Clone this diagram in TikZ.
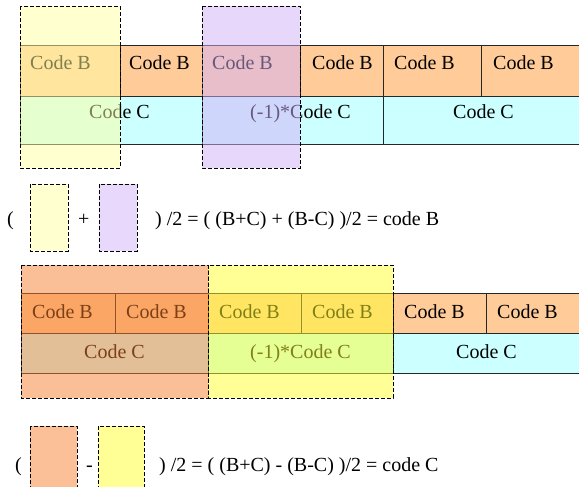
\documentclass[tikz,border=0pt]{standalone}
\usepackage{fontspec}
\setmainfont{Liberation Serif}
\definecolor{peach}{RGB}{255,204,153}
\definecolor{aqua}{RGB}{204,255,255}
\definecolor{veilyellow}{RGB}{255,255,161}
\definecolor{veilpurple}{RGB}{209,177,249}
\definecolor{veilorange}{RGB}{249,129,49}
\definecolor{veillemon}{RGB}{255,255,45}
\definecolor{paleyellow}{RGB}{255,255,208}
\definecolor{palepurple}{RGB}{232,216,252}
\definecolor{paleorange}{RGB}{252,192,152}
\definecolor{palelemon}{RGB}{255,255,150}
\begin{document}
\begin{tikzpicture}[x=1pt,y=-1pt,
  grid/.style={draw=black!85, line width=0.9pt},
  veil/.style={fill opacity=0.5, draw=black, line width=0.9pt, dash pattern=on 4pt off 2pt},
  swatch/.style={draw=black, line width=0.9pt, dash pattern=on 4pt off 2pt},
  lbl/.style={anchor=base west, inner sep=0pt, font=\fontsize{20}{24}\selectfont},
]
\useasboundingbox (0,0) rectangle (579,487);
\fill[white] (0,0) rectangle (579,487);
\begin{scope}
\clip (0,0) rectangle (579,487);

% ---- upper strip: B cells over C cells
\fill[peach] (20,45) rectangle (590,96);
\fill[aqua] (20,96) rectangle (590,144);
\draw[grid] (20,45) -- (590,45) (20,96) -- (590,96) (20,144) -- (590,144);
\draw[grid] (20,45) -- (20,144)
  (120,45) -- (120,96) (202,45) -- (202,144) (300,45) -- (300,96)
  (383,45) -- (383,144) (481,45) -- (481,96);
\node[lbl] (b1) at (30,70) {Code B};
\node[lbl] (b2) at (129,70) {Code B};
\node[lbl] (b3) at (212,70) {Code B};
\node[lbl] (b4) at (312,70) {Code B};
\node[lbl] (b5) at (394,70) {Code B};
\node[lbl] (b6) at (493,70) {Code B};
\node[lbl] (c1) at (89,118) {Code C};
\node[lbl] (c2) at (250,118) {(-1)*Code C};
\node[lbl] (c3) at (453,118) {Code C};

% translucent selections
\filldraw[veil, fill=veilyellow] (20,6) rectangle (120,168);
\filldraw[veil, fill=veilpurple] (202,6) rectangle (300,168);

% ---- first sum
\node[lbl] (p1) at (7,225) {(};
\filldraw[swatch, fill=paleyellow] (30,184) rectangle (68,251);
\node[lbl] (plus) at (78,225) {+};
\filldraw[swatch, fill=palepurple] (99,184) rectangle (137,251);
\node[lbl] (eq1) at (155,225) {) /2 = ( (B+C) + (B-C) )/2 = code B};

% ---- lower strip
\fill[peach] (21,293) rectangle (590,333);
\fill[aqua] (21,333) rectangle (590,373);
\draw[grid] (21,293) -- (590,293) (21,333) -- (590,333) (21,373) -- (590,373);
\draw[grid] (21,293) -- (21,373)
  (115,293) -- (115,333) (208,293) -- (208,373) (301,293) -- (301,333)
  (393,293) -- (393,373) (486,293) -- (486,333);
\node[lbl] (d1) at (32,318) {Code B};
\node[lbl] (d2) at (126,318) {Code B};
\node[lbl] (d3) at (219,318) {Code B};
\node[lbl] (d4) at (312,318) {Code B};
\node[lbl] (d5) at (404,318) {Code B};
\node[lbl] (d6) at (497,318) {Code B};
\node[lbl] (e1) at (84,358) {Code C};
\node[lbl] (e2) at (250,358) {(-1)*Code C};
\node[lbl] (e3) at (456,358) {Code C};

\filldraw[veil, fill=veilorange] (21,265) rectangle (208,398);
\filldraw[veil, fill=veillemon] (208,265) rectangle (393,398);

% ---- second difference
\node[lbl] (p2) at (15,471) {(};
\filldraw[swatch, fill=paleorange] (30,426) rectangle (77,500);
\node[lbl] (minus) at (86,471) {-};
\filldraw[swatch, fill=palelemon] (98,426) rectangle (144,500);
\node[lbl] (eq2) at (159,471) {) /2 = ( (B+C) - (B-C) )/2 = code C};
\end{scope}
\end{tikzpicture}
\end{document}
